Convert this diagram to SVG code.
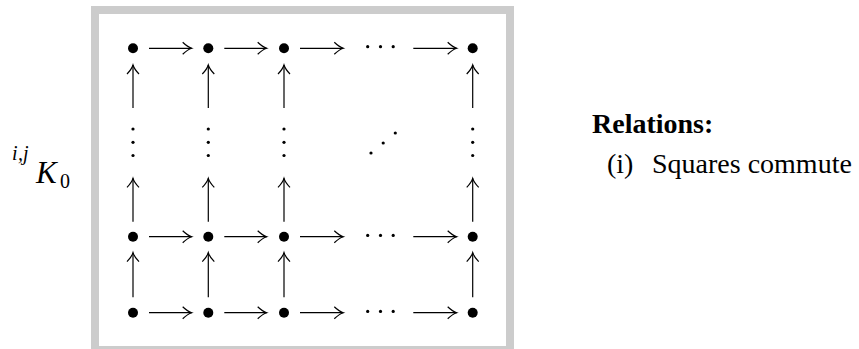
<svg xmlns="http://www.w3.org/2000/svg" width="859" height="349" viewBox="0 0 859 349">
<style>
.frame{fill:none;stroke:#cccccc;stroke-width:8}
.bul{fill:#000}
.dot{fill:#000}
.ar{fill:none;stroke:#000;stroke-width:1.2;marker-end:url(#ah)}
.serif{font-family:"Liberation Serif","Times New Roman",serif;fill:#000}
</style>
<defs>
<marker id="ah" viewBox="-11 -8 12 16" refX="0" refY="0" markerWidth="12" markerHeight="16" markerUnits="userSpaceOnUse" orient="auto" overflow="visible">
<path d="M-9,-6 Q-4,-1.2 0,0 Q-4,1.2 -9,6" fill="none" stroke="#000" stroke-width="1.2"/>
</marker>
</defs>
<rect class="frame" x="95" y="10" width="415" height="340"/>
<g id="label">
<text class="serif" font-style="italic" font-size="20" y="160"><tspan x="12">i</tspan><tspan x="18">,</tspan><tspan x="23">j</tspan></text>
<text class="serif" font-style="italic" font-size="31" x="36" y="183">K</text>
<text class="serif" font-size="20" x="60" y="188">0</text>
</g>
<g id="relations">
<text class="serif" font-weight="bold" font-size="28" x="592" y="133">Relations:</text>
<text class="serif" font-size="28" x="607" y="173">(i)</text>
<text class="serif" font-size="28" x="652" y="173">Squares commute</text>
</g>
<g id="n11"><circle class="bul" cx="133" cy="48.3" r="5"/></g>
<g id="n12"><circle class="bul" cx="208.3" cy="48.3" r="5"/></g>
<g id="n13"><circle class="bul" cx="284" cy="48.3" r="5"/></g>
<g id="n14"><circle class="bul" cx="472.7" cy="48.3" r="5"/></g>
<g id="n21"><circle class="bul" cx="133" cy="236.7" r="5"/></g>
<g id="n22"><circle class="bul" cx="208.3" cy="236.7" r="5"/></g>
<g id="n23"><circle class="bul" cx="284" cy="236.7" r="5"/></g>
<g id="n24"><circle class="bul" cx="472.7" cy="236.7" r="5"/></g>
<g id="n31"><circle class="bul" cx="133" cy="312.7" r="5"/></g>
<g id="n32"><circle class="bul" cx="208.3" cy="312.7" r="5"/></g>
<g id="n33"><circle class="bul" cx="284" cy="312.7" r="5"/></g>
<g id="n34"><circle class="bul" cx="472.7" cy="312.7" r="5"/></g>
<g id="hdots1"><circle class="dot" cx="367.7" cy="46.7" r="1.6"/><circle class="dot" cx="380.5" cy="46.7" r="1.6"/><circle class="dot" cx="393.2" cy="46.7" r="1.6"/></g>
<g id="hdots2"><circle class="dot" cx="367.7" cy="235.4" r="1.6"/><circle class="dot" cx="380.5" cy="235.4" r="1.6"/><circle class="dot" cx="393.2" cy="235.4" r="1.6"/></g>
<g id="hdots3"><circle class="dot" cx="367.7" cy="311.4" r="1.6"/><circle class="dot" cx="380.5" cy="311.4" r="1.6"/><circle class="dot" cx="393.2" cy="311.4" r="1.6"/></g>
<g id="vdots1"><circle class="dot" cx="133" cy="129" r="1.6"/><circle class="dot" cx="133" cy="142.3" r="1.6"/><circle class="dot" cx="133" cy="155.5" r="1.6"/></g>
<g id="vdots2"><circle class="dot" cx="208.3" cy="129" r="1.6"/><circle class="dot" cx="208.3" cy="142.3" r="1.6"/><circle class="dot" cx="208.3" cy="155.5" r="1.6"/></g>
<g id="vdots3"><circle class="dot" cx="284" cy="129" r="1.6"/><circle class="dot" cx="284" cy="142.3" r="1.6"/><circle class="dot" cx="284" cy="155.5" r="1.6"/></g>
<g id="vdots4"><circle class="dot" cx="472.7" cy="129" r="1.6"/><circle class="dot" cx="472.7" cy="142.3" r="1.6"/><circle class="dot" cx="472.7" cy="155.5" r="1.6"/></g>
<g id="ddots"><circle class="dot" cx="371" cy="153" r="1.6"/><circle class="dot" cx="383.2" cy="143" r="1.6"/><circle class="dot" cx="395.3" cy="133" r="1.6"/></g>
<g id="connectors">
<line class="ar" x1="149" y1="48.3" x2="191.7" y2="48.3"/>
<line class="ar" x1="224.3" y1="48.3" x2="266.7" y2="48.3"/>
<line class="ar" x1="300" y1="48.3" x2="343.3" y2="48.3"/>
<line class="ar" x1="413.3" y1="48.3" x2="456.7" y2="48.3"/>
<line class="ar" x1="149" y1="236.7" x2="191.7" y2="236.7"/>
<line class="ar" x1="224.3" y1="236.7" x2="266.7" y2="236.7"/>
<line class="ar" x1="300" y1="236.7" x2="343.3" y2="236.7"/>
<line class="ar" x1="413.3" y1="236.7" x2="456.7" y2="236.7"/>
<line class="ar" x1="149" y1="312.7" x2="191.7" y2="312.7"/>
<line class="ar" x1="224.3" y1="312.7" x2="266.7" y2="312.7"/>
<line class="ar" x1="300" y1="312.7" x2="343.3" y2="312.7"/>
<line class="ar" x1="413.3" y1="312.7" x2="456.7" y2="312.7"/>
<line class="ar" x1="133" y1="108" x2="133" y2="65"/>
<line class="ar" x1="208.3" y1="108" x2="208.3" y2="65"/>
<line class="ar" x1="284" y1="108" x2="284" y2="65"/>
<line class="ar" x1="472.7" y1="108" x2="472.7" y2="65"/>
<line class="ar" x1="133" y1="221.7" x2="133" y2="178.3"/>
<line class="ar" x1="208.3" y1="221.7" x2="208.3" y2="178.3"/>
<line class="ar" x1="284" y1="221.7" x2="284" y2="178.3"/>
<line class="ar" x1="472.7" y1="221.7" x2="472.7" y2="178.3"/>
<line class="ar" x1="133" y1="297.3" x2="133" y2="252.7"/>
<line class="ar" x1="208.3" y1="297.3" x2="208.3" y2="252.7"/>
<line class="ar" x1="284" y1="297.3" x2="284" y2="252.7"/>
<line class="ar" x1="472.7" y1="297.3" x2="472.7" y2="252.7"/>
</g>
</svg>
